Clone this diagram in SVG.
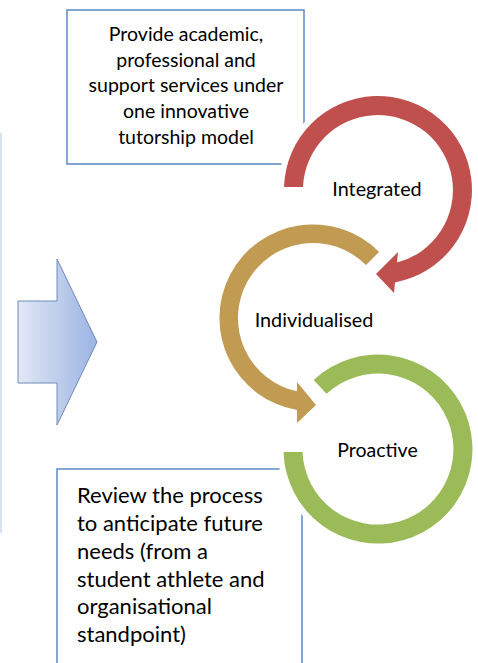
<svg xmlns="http://www.w3.org/2000/svg" width="478" height="663" viewBox="0 0 478 663">
<defs>
<linearGradient id="arrowGrad" x1="0" y1="0" x2="1" y2="0">
<stop offset="0" stop-color="#e2e8f5"/>
<stop offset="1" stop-color="#9bb4e2"/>
</linearGradient>
<style>
.box{fill:#ffffff;stroke:#5b89c6;stroke-width:1.5}
.txt{font-family:Lato,"Liberation Sans",sans-serif;fill:#000000}
.ring{stroke:#ffffff;stroke-width:12;paint-order:stroke;stroke-linejoin:miter}
</style>
</defs>
<rect width="478" height="663" fill="#ffffff"/>
<line x1="1" y1="133" x2="1" y2="533" stroke="#d8e3f1" stroke-width="2"/>
<g id="bigArrow">
<path d="M18,301 L57,301 L57,259 L97,342 L57,425 L57,383 L18,383 Z" fill="url(#arrowGrad)" stroke="#6f8bba" stroke-width="1"/>
</g>
<g id="topBox">
<rect class="box" x="67" y="10" width="237" height="154"/>
<g class="txt" font-size="19.5" text-anchor="middle">
<text x="186" y="40.5">Provide academic,</text>
<text x="186" y="66.5">professional and</text>
<text x="186" y="92">support services under</text>
<text x="186" y="118">one innovative</text>
<text x="186" y="144">tutorship model</text>
</g>
</g>
<g id="bottomBox">
<rect class="box" x="57" y="469" width="245" height="220"/>
<g class="txt" font-size="22">
<text x="77" y="503">Review the process</text>
<text x="77" y="530.5">to anticipate future</text>
<text x="77" y="558.5">needs (from a</text>
<text x="77" y="586.5">student athlete and</text>
<text x="77" y="614">organisational</text>
<text x="77" y="642">standpoint)</text>
</g>
</g>
<g id="connectors">
<path id="redArrow" class="ring" fill="#c0504d" d="M284,187 A94,94 0 1 1 395,282.4 L394,293 L376,274 L398,252 L397,262.6 A75,75 0 1 0 303,187 Z"/>
<path id="goldArrow" class="ring" fill="#c19b52" d="M379.1,251.9 A93.5,93.5 0 1 0 297,410.1 L297,423 L316,405 L297,382 L297,391.3 A75,75 0 1 1 366,265 Z"/>
<path id="greenArc" class="ring" fill="#9bbb59" d="M283.5,452 A94.5,94.5 0 1 0 313.6,379.9 L326.5,393.8 A75.5,75.5 0 1 1 302.5,452 Z"/>
</g>
<g id="integrated"><text class="txt" font-size="19.8" x="377" y="196" text-anchor="middle">Integrated</text></g>
<g id="individualised"><text class="txt" font-size="19.8" x="314" y="327" text-anchor="middle">Individualised</text></g>
<g id="proactive"><text class="txt" font-size="19.5" x="377.5" y="457" text-anchor="middle">Proactive</text></g>
</svg>
